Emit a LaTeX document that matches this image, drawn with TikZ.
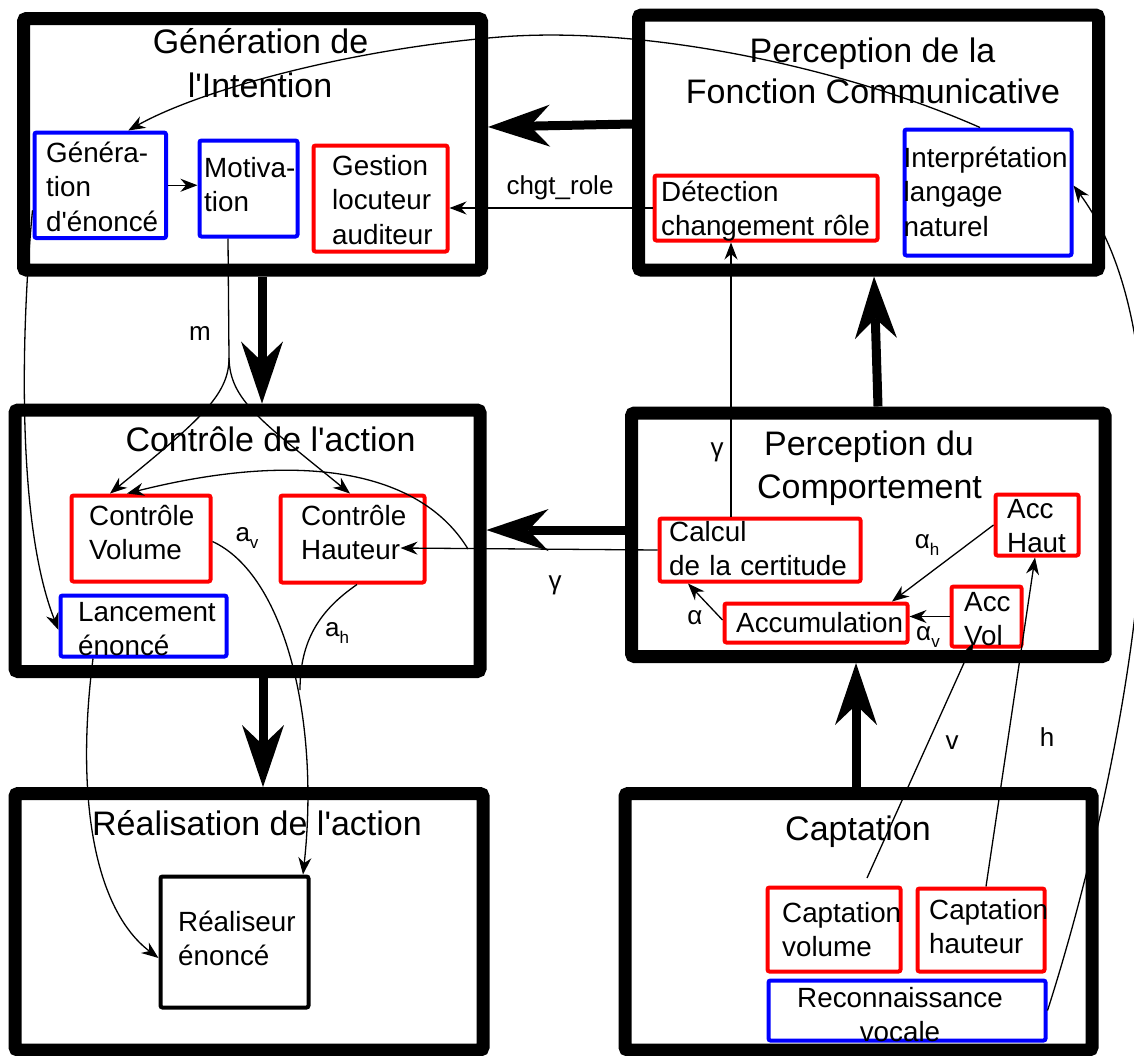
\documentclass[tikz,border=0pt]{standalone}
\usepackage{fontspec}
\setmainfont{Liberation Sans}
\usetikzlibrary{arrows.meta,calc}
\definecolor{rr}{RGB}{255,0,0}
\definecolor{bb}{RGB}{0,0,255}
\newcommand\mysub[1]{\raisebox{-0.3em}{\fontsize{17}{17}\selectfont #1}}
\newcommand\apo{\textquotesingle}
\begin{document}
\begin{tikzpicture}[x=1pt,y=-1pt,
  bigbox/.style={draw, line width=13pt, rounded corners=3pt, inner sep=0pt},
  ttl/.style={font=\fontsize{34}{44}\selectfont, anchor=base, inner sep=0pt},
  ibox/.style={draw=#1, line width=4pt, rounded corners=2pt, inner sep=0pt},
  itext/.style={font=\fontsize{27.8}{34.5}\selectfont, align=left, inner sep=0pt, anchor=base west, text width=220pt},
  lbl/.style={font=\fontsize{26}{30}\selectfont, inner sep=0pt},
  conn/.style={line width=1.3pt},
  ctip/.style={conn, -{Stealth[length=17pt,width=13pt,inset=5.5pt]}},
  bigarrow/.style={line width=9pt, -{Stealth[length=62pt,width=42pt,inset=20pt,line width=0pt]}},
]
\useasboundingbox (0,0) rectangle (1134,1055);

% ---- large modules
\node[bigbox, minimum width=458pt, minimum height=251.5pt] (genI) at (252.5,144.25) {};
\node[bigbox, minimum width=460pt, minimum height=255pt] (perF) at (868.5,142.5) {};
\node[bigbox, minimum width=465pt, minimum height=261.5pt] (ctrl) at (247.5,540.75) {};
\node[bigbox, minimum width=473.5pt, minimum height=243.5pt] (perC) at (868.25,534.75) {};
\node[bigbox, minimum width=468pt, minimum height=256.5pt] (realA) at (249,921.75) {};
\node[bigbox, minimum width=467pt, minimum height=256.5pt] (capt) at (858.5,921.75) {};

% ---- titles
\node[ttl] (t1a) at (260.5,53) {Génération de};
\node[ttl] (t1b) at (260,97) {l\apo Intention};
\node[ttl] (t2a) at (872.5,62) {Perception de la};
\node[ttl] (t2b) at (873,103) {Fonction Communicative};
\node[ttl] (t3) at (270.5,451) {Contrôle de l\apo action};
\node[ttl] (t4a) at (869,455) {Perception du};
\node[ttl] (t4b) at (869.5,498) {Comportement};
\node[ttl] (t5) at (257,835) {Réalisation de l\apo action};
\node[ttl] (t6) at (858,840) {Captation};

% ---- inner boxes
\node[ibox=bb, minimum width=131.5pt, minimum height=105.5pt] (gen) at (100.25,185.25) {};
\node[ibox=bb, minimum width=98pt, minimum height=96pt] (mot) at (248.5,188.5) {};
\node[ibox=rr, minimum width=134pt, minimum height=106pt] (gest) at (380.5,198.5) {};
\node[ibox=rr, minimum width=223pt, minimum height=65pt] (det) at (766,208) {};
\node[ibox=bb, minimum width=167pt, minimum height=126pt] (interp) at (988,192.5) {};
\node[ibox=rr, minimum width=139pt, minimum height=86pt] (cvol) at (141,538.5) {};
\node[ibox=rr, minimum width=144pt, minimum height=87pt] (chaut) at (352.5,539) {};
\node[ibox=bb, minimum width=166pt, minimum height=61pt] (lanc) at (143.5,626) {};
\node[ibox=rr, minimum width=201pt, minimum height=63pt] (calc) at (760,550) {};
\node[ibox=rr, minimum width=183pt, minimum height=39pt] (accu) at (816,623) {};
\node[ibox=rr, minimum width=83pt, minimum height=61pt] (acch) at (1037,525) {};
\node[ibox=rr, minimum width=70pt, minimum height=60pt] (accv) at (986.5,616.5) {};
\node[ibox=black, minimum width=148pt, minimum height=131pt] (real) at (234.5,942) {};
\node[ibox=rr, minimum width=133pt, minimum height=84pt] (capv) at (834,929.5) {};
\node[ibox=rr, minimum width=127pt, minimum height=83pt] (caph) at (981,930) {};
\node[ibox=bb, minimum width=277pt, minimum height=60pt] (reco) at (907,1010.5) {};

% ---- inner texts
\node[itext] (genT) at (46,162) {Généra-\\tion\\d\apo énoncé};
\node[itext] (motT) at (204,177) {Motiva-\\tion};
\node[itext] (gestT) at (332,175) {Gestion\\locuteur\\auditeur};
\node[itext] (detT) at (661,201) {Détection\\changement~rôle};
\node[itext] (interpT) at (903.5,167) {Interprétation\\langage\\naturel};
\node[itext] (cvolT) at (89,525) {Contrôle\\Volume};
\node[itext] (chautT) at (301,525) {Contrôle\\Hauteur};
\node[itext] (lancT) at (78,621) {Lancement\\énoncé};
\node[itext] (calcT) at (669,541) {Calcul\\de~la~certitude};
\node[itext] (accuT) at (736,632) {Accumulation};
\node[itext] (acchT) at (1007,518) {Acc\\Haut};
\node[itext] (accvT) at (964,611) {Acc\\Vol};
\node[itext] (realT) at (178,931) {Réaliseur\\énoncé};
\node[itext] (capvT) at (782,922) {Captation\\volume};
\node[itext] (caphT) at (929,919) {Captation\\hauteur};
\node[itext, align=center, anchor=base, text width=277pt] (recoT) at (900,1007) {Reconnaissance\\vocale};

% ---- thick arrows between modules
\coordinate (xa) at (262,0);
\coordinate (xb) at (263,0);
\draw[bigarrow] (genI.south -| xa) -- (ctrl.north -| xa);
\draw[bigarrow] (ctrl.south -| xb) -- (realA.north -| xb);
\draw[bigarrow] ([xshift=9.75pt]perC.north) -- ([xshift=5.5pt]perF.south);
\draw[bigarrow] ([xshift=-2.5pt]capt.north) -- ([xshift=-12.25pt]perC.south);
\draw[bigarrow] ([yshift=18.5pt]perF.west) -- ([yshift=17.25pt]genI.east);
\draw[bigarrow] ([yshift=4.75pt]perC.west) -- ([yshift=10.75pt]ctrl.east);

% ---- thin connectors
\draw[ctip] ([xshift=-8pt]interp.north) .. controls (850,70) and (650,25) .. (500,37)
   .. controls (350,49) and (200,90) .. ([xshift=28pt]gen.north);
\draw[ctip] (det.west) -- (gest.east |- det.west);
\node[lbl] (lchg) at (560,188) {chgt\_role};
\draw[ctip] (gen.east) -- (mot.west |- gen.east);

\coordinate (msplit) at (229,358);
\draw[conn] ([xshift=-20.5pt]mot.south) -- (msplit);
\draw[ctip] (msplit) .. controls (229,395) and (200,420) .. ([xshift=-31pt]cvol.north);
\draw[ctip] (msplit) .. controls (230,400) and (260,420) .. ([xshift=-2.5pt]chaut.north);
\node[lbl] (lm) at (200,333) {m};

\draw[ctip] (calc.west) -- ($(chaut.east)+(-26,9)$);
\coordinate (brk) at (468,549);
\draw[ctip] (brk) .. controls (420,470) and (300,450) .. ([xshift=-14pt]cvol.north);
\node[lbl] (lg1) at (555,585) {γ};

\draw[ctip] ([xshift=-29pt]calc.north) -- ([xshift=-35pt]det.south);
\node[lbl] (lg2) at (717,452) {γ};

\draw[ctip] ([yshift=3pt]accu.west) -- ([xshift=-72pt]calc.south);
\node[lbl] (la) at (695,618) {α};
\draw[ctip] (acch.west) -- ([xshift=76pt]accu.north);
\node[lbl] (lah) at (927,545) {α\mysub{h}};
\draw[ctip] (accv.west) -- (accu.east |- accv.west);
\node[lbl] (lav) at (928,637) {α\mysub{v}};

\draw[ctip] ([xshift=33pt,yshift=7.5pt]capv.north) -- ([xshift=-13.5pt,yshift=5.5pt]accv.south);
\node[lbl] (lv) at (952,743) {v};
\draw[ctip] ([xshift=5pt]caph.north) -- ([xshift=-2pt]acch.south);
\node[lbl] (lh) at (1047,737) {h};

\draw[ctip] (reco.east) .. controls (1115,800) and (1210,370) .. ([yshift=7pt]interp.east);

\draw[ctip] ([yshift=-25pt]gen.west) .. controls (22,320) and (15,520) .. ([yshift=-4pt]lanc.west);
\draw[ctip] ([xshift=-50.5pt]lanc.south) .. controls (75,800) and (95,910) .. ([yshift=-16pt]real.west);

\draw[ctip] ([yshift=-3pt]cvol.east) .. controls (285,575) and (320,720) .. ([xshift=68.5pt]real.north);
\node[lbl] (lav2) at (247,538) {a\mysub{v}};
\coordinate (ahend) at (300,690);
\draw[conn] ([xshift=4.5pt]chaut.south) .. controls (320,610) and (300,640) .. (ahend);
\node[lbl] (lah2) at (337,633) {a\mysub{h}};
\end{tikzpicture}
\end{document}
